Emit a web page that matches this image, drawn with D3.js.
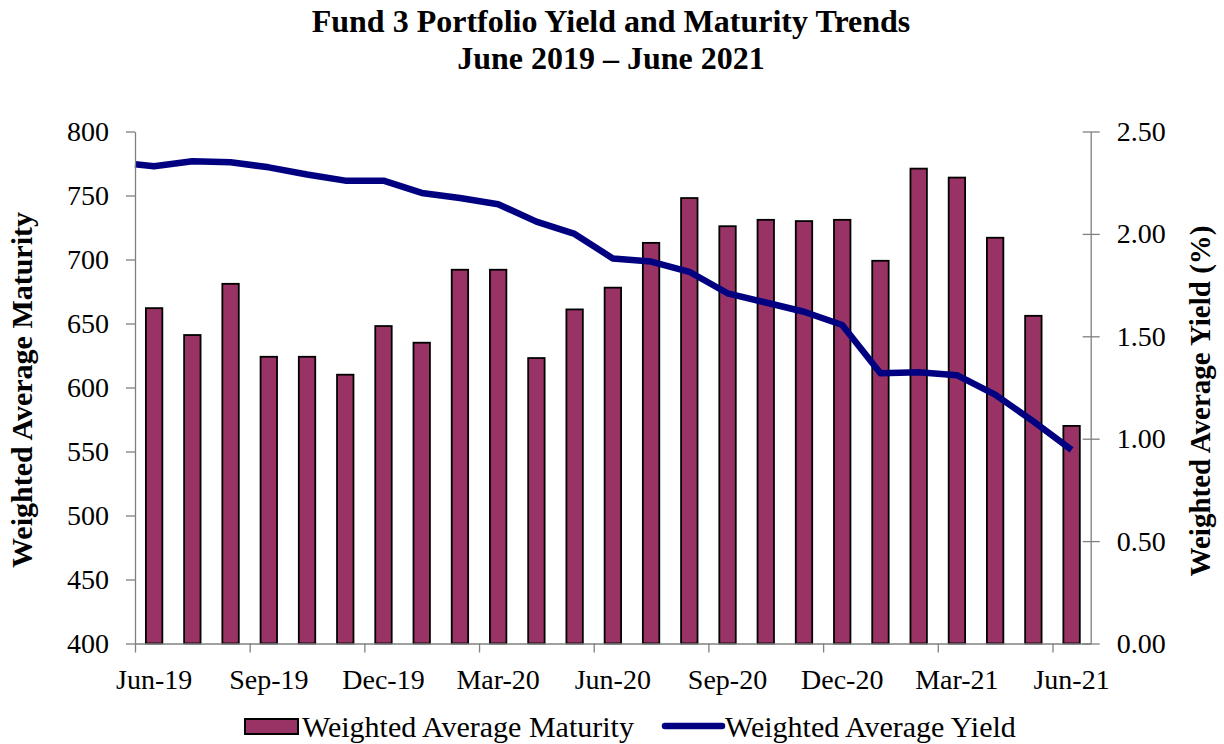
<!DOCTYPE html>
<html>
<head>
<meta charset="utf-8">
<script src="https://cdn.jsdelivr.net/npm/d3@7"></script>
<style>
  body { margin: 0; background: #fff; }
  text { font-family: "Liberation Serif", "Times New Roman", serif; fill: #000; }
</style>
</head>
<body>
<div id="chart"></div>
<script>
// Data
const months = ['Jun-19','Jul-19','Aug-19','Sep-19','Oct-19','Nov-19','Dec-19','Jan-20','Feb-20','Mar-20',
    'Apr-20','May-20','Jun-20','Jul-20','Aug-20','Sep-20','Oct-20','Nov-20','Dec-20','Jan-21',
    'Feb-21','Mar-21','Apr-21','May-21','Jun-21'];
const maturity = [662, 641, 681, 624, 624, 610, 648, 635, 692, 692,
    623, 661, 678, 713, 748, 726, 731, 730, 731, 699,
    771, 764, 717, 656, 570];
const yieldPct = [2.33, 2.355, 2.35, 2.325, 2.29, 2.26, 2.26, 2.20, 2.175, 2.145,
    2.06, 2.00, 1.88, 1.865, 1.815, 1.71, 1.665, 1.62, 1.555, 1.32,
    1.325, 1.31, 1.215, 1.085, 0.945];
const yieldLeadIn = 2.34; // line starts at the left axis
const maturityTicks = [400, 450, 500, 550, 600, 650, 700, 750, 800];
const yieldTicks = [0, 0.5, 1.0, 1.5, 2.0, 2.5];
const titleLines = ['Fund 3 Portfolio Yield and Maturity Trends', 'June 2019 \u2013 June 2021'];

// Layout
const width = 1224, height = 744;
const margin = { top: 131.5, right: 133.3, bottom: 100.5, left: 135 };
const plotW = width - margin.left - margin.right;
const plotH = height - margin.top - margin.bottom;

const svg = d3.select('#chart')
    .append('svg')
    .attr('width', width)
    .attr('height', height);

const g = svg.append('g')
    .attr('transform', `translate(${margin.left}, ${margin.top})`);

// Scales
const xBand = d3.scaleBand()
    .domain(months)
    .range([0, plotW])
    .paddingInner(0.57)
    .paddingOuter(0.285);
const xIdx = d3.scaleLinear().domain([0, months.length]).range([0, plotW]);
const yLeft = d3.scaleLinear().domain([400, 800]).range([plotH, 0]);
const yRight = d3.scaleLinear().domain([0, 2.5]).range([plotH, 0]);

// Bars
g.selectAll('.bar')
    .data(maturity)
    .join('rect')
    .attr('class', 'bar')
    .attr('x', (d, i) => xBand(months[i]))
    .attr('y', d => yLeft(d))
    .attr('width', xBand.bandwidth())
    .attr('height', d => plotH - yLeft(d))
    .attr('fill', '#993366')
    .attr('stroke', '#000')
    .attr('stroke-width', 1.8);

// Yield line
const linePts = [[0, yieldLeadIn]].concat(
    yieldPct.map((v, i) => [xBand(months[i]) + xBand.bandwidth() / 2, v]));
const line = d3.line()
    .x(d => d[0])
    .y(d => yRight(d[1]));
g.append('path')
    .datum(linePts)
    .attr('d', line)
    .attr('fill', 'none')
    .attr('stroke', '#000080')
    .attr('stroke-width', 6.5)
    .attr('stroke-linejoin', 'round');

// Axes
const axisColor = '#808080';
const styleAxis = sel => {
    sel.select('.domain').attr('stroke', axisColor).attr('stroke-width', 1.3);
    sel.selectAll('.tick line').attr('stroke', axisColor).attr('stroke-width', 1.3);
    sel.selectAll('.tick text')
        .attr('font-family', '"Liberation Serif", "Times New Roman", serif')
        .attr('font-size', 28)
        .attr('fill', '#000');
};

g.append('g')
    .call(d3.axisLeft(yLeft).tickValues(maturityTicks).tickSize(9).tickPadding(17).tickSizeOuter(0))
    .call(styleAxis);

const rightAxis = g.append('g')
    .attr('transform', `translate(${plotW}, 0)`)
    .call(d3.axisRight(yRight).tickValues(yieldTicks).tickFormat(d3.format('.2f'))
        .tickSize(9).tickPadding(17).tickSizeOuter(0))
    .call(styleAxis);
rightAxis.selectAll('.tick line').attr('x1', -8);

const xAxis = g.append('g')
    .attr('transform', `translate(0, ${plotH})`)
    .call(d3.axisBottom(xIdx).tickValues(d3.range(0, months.length, 3)).tickFormat('')
        .tickSize(9).tickSizeOuter(0))
    .call(styleAxis);

// Category labels (every third month, centred on the bar)
g.selectAll('.x-label')
    .data(months.filter((m, i) => i % 3 === 0))
    .join('text')
    .attr('class', 'x-label')
    .attr('x', d => xBand(d) + xBand.bandwidth() / 2)
    .attr('y', plotH + 45)
    .attr('text-anchor', 'middle')
    .attr('font-size', 28)
    .text(d => d);

// Title
svg.selectAll('.title')
    .data(titleLines)
    .join('text')
    .attr('class', 'title')
    .attr('x', 611)
    .attr('y', (d, i) => 32 + i * 37)
    .attr('text-anchor', 'middle')
    .attr('font-size', 32)
    .attr('font-weight', 'bold')
    .text(d => d);

// Axis names
svg.append('text')
    .attr('transform', 'translate(32, 390) rotate(-90)')
    .attr('text-anchor', 'middle')
    .attr('font-size', 30)
    .attr('font-weight', 'bold')
    .text('Weighted Average Maturity');
svg.append('text')
    .attr('transform', 'translate(1210, 401) rotate(-90)')
    .attr('text-anchor', 'middle')
    .attr('font-size', 29)
    .attr('font-weight', 'bold')
    .text('Weighted Average Yield (%)');

// Legend
const legend = svg.append('g');
legend.append('rect')
    .attr('x', 245).attr('y', 719)
    .attr('width', 53).attr('height', 15)
    .attr('fill', '#993366')
    .attr('stroke', '#000')
    .attr('stroke-width', 2);
legend.append('text')
    .attr('x', 302).attr('y', 737)
    .attr('font-size', 30)
    .text('Weighted Average Maturity');
legend.append('line')
    .attr('x1', 665).attr('x2', 722)
    .attr('y1', 726).attr('y2', 726)
    .attr('stroke', '#000080')
    .attr('stroke-width', 6.5)
    .attr('stroke-linecap', 'round');
legend.append('text')
    .attr('x', 725).attr('y', 737)
    .attr('font-size', 30)
    .text('Weighted Average Yield');
</script>
</body>
</html>
